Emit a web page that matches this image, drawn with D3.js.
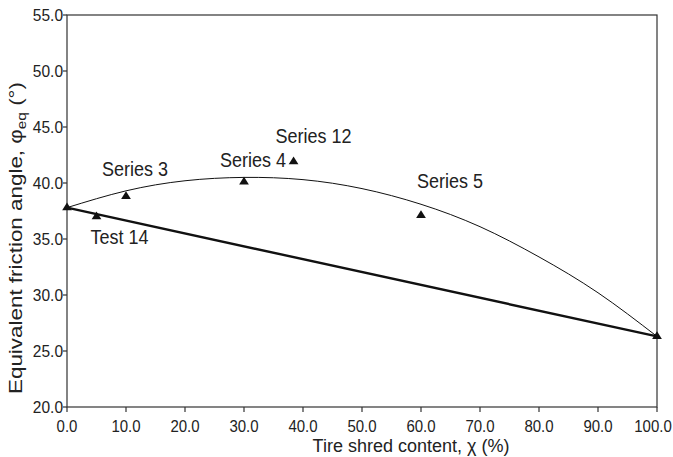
<!DOCTYPE html>
<html>
<head>
<meta charset="utf-8">
<script src="https://cdn.jsdelivr.net/npm/d3@7"></script>
<style>
  body { margin: 0; background: #fff; }
  svg { display: block; }
  text { font-family: "Liberation Sans", Arial, Helvetica, sans-serif; fill: #222; }
</style>
</head>
<body>
<svg id="chart" width="673" height="457"></svg>
<script>
// tick values
var xTicks = [0, 10, 20, 30, 40, 50, 60, 70, 80, 90, 100];
var yTicks = [20, 25, 30, 35, 40, 45, 50, 55];

// measured points (triangles)
var pointNames = ["", "Test 14", "Series 3", "Series 4", "Series 12", "Series 5", ""];
var pointX = [0, 5, 10, 30, 38.4, 60, 100];
var pointY = [37.8, 37.0, 38.8, 40.1, 41.9, 37.1, 26.3];

// straight bound line
var lineX = [0, 100];
var lineY = [37.8, 26.3];

// curved line
var curveX = [0, 10, 20, 30, 40, 50, 60, 70, 80, 90, 100];
var curveY = [37.8, 39.3, 40.2, 40.5, 40.3, 39.5, 38.1, 36.1, 33.4, 30.2, 26.3];

// label offsets from their triangle, px
var labelDx = [0, -6, -24, -24, -18, -4, 0];
var labelDy = [0, 27, -20, -15, -19, -27, 0];

var sy = 1.08; // the picture's text looks a bit stretched vertically

var margin = {left: 67, right: 16, top: 15, bottom: 50};
var W = 673, H = 457;

var svg = d3.select("#chart");

var x = d3.scaleLinear().domain([0, 100]).range([margin.left, W - margin.right]);
var y = d3.scaleLinear().domain([20, 55]).range([H - margin.bottom, margin.top]);

// frame
svg.append("rect")
    .attr("x", x(0)).attr("y", y(55))
    .attr("width", x(100) - x(0)).attr("height", y(20) - y(55))
    .attr("fill", "none").attr("stroke", "#333").attr("stroke-width", 1.2);

// x axis
var xa = svg.append("g").attr("transform", "translate(0," + y(20) + ")");
xa.selectAll("line").data(xTicks).enter().append("line")
    .attr("x1", function(d){ return x(d); }).attr("x2", function(d){ return x(d); })
    .attr("y1", 0).attr("y2", 5)
    .attr("stroke", "#333").attr("stroke-width", 1.2);
xa.selectAll("g.lab").data(xTicks).enter().append("g")
    .attr("class", "lab")
    .attr("transform", function(d){
        var px = Math.min(x(d), W - 20);
        return "translate(" + px + ",24.5) scale(1," + sy + ")";
    })
    .append("text")
    .attr("text-anchor", "middle")
    .attr("font-size", 15)
    .text(function(d){ return d3.format(".1f")(d); });

// y axis
var ya = svg.append("g").attr("transform", "translate(" + x(0) + ",0)");
ya.selectAll("line").data(yTicks).enter().append("line")
    .attr("x1", -4).attr("x2", 0)
    .attr("y1", function(d){ return y(d); }).attr("y2", function(d){ return y(d); })
    .attr("stroke", "#333").attr("stroke-width", 1.2);
ya.selectAll("g.lab").data(yTicks).enter().append("g")
    .attr("class", "lab")
    .attr("transform", function(d){ return "translate(-4," + y(d) + ") scale(1," + sy + ")"; })
    .append("text")
    .attr("text-anchor", "end")
    .attr("dy", "0.36em")
    .attr("font-size", 15.5)
    .text(function(d){ return d3.format(".1f")(d); });

// axis titles
var xt = svg.append("text")
    .attr("x", 411).attr("y", 452)
    .attr("text-anchor", "middle")
    .attr("font-size", 18);
xt.append("tspan").text("Tire shred content, ");
xt.append("tspan").text("χ");
xt.append("tspan").text(" (%)");

var yt = svg.append("g")
    .attr("transform", "translate(22,238) scale(1,1.18) rotate(-90)")
    .append("text")
    .attr("text-anchor", "middle")
    .attr("font-size", 19);
yt.append("tspan").text("Equivalent friction angle, φ");
yt.append("tspan").attr("dy", 4).attr("font-size", 13).text("eq");
yt.append("tspan").attr("dy", -4).text(" (°)");

// straight line (thick)
var line = d3.line()
    .x(function(d, i){ return x(lineX[i]); })
    .y(function(d, i){ return y(lineY[i]); });
svg.append("path")
    .attr("d", line(lineX))
    .attr("fill", "none").attr("stroke", "#111").attr("stroke-width", 2.4);

// curved line (thin)
var curve = d3.line()
    .curve(d3.curveNatural)
    .x(function(d, i){ return x(curveX[i]); })
    .y(function(d, i){ return y(curveY[i]); });
svg.append("path")
    .attr("d", curve(curveX))
    .attr("fill", "none").attr("stroke", "#111").attr("stroke-width", 1);

// triangles
var tri = d3.symbol().type(d3.symbolTriangle).size(34);
svg.selectAll("path.pt").data(pointX).enter().append("path")
    .attr("class", "pt")
    .attr("d", tri)
    .attr("transform", function(d, i){ return "translate(" + x(pointX[i]) + "," + y(pointY[i]) + ") scale(1.1,1)"; })
    .attr("fill", "#111");

// point labels
svg.selectAll("g.plab").data(pointNames).enter().append("g")
    .attr("class", "plab")
    .attr("transform", function(d, i){
        return "translate(" + (x(pointX[i]) + labelDx[i]) + "," + (y(pointY[i]) + labelDy[i]) + ") scale(1," + sy + ")";
    })
    .append("text")
    .attr("font-size", 18)
    .text(function(d){ return d; });
</script>
</body>
</html>
